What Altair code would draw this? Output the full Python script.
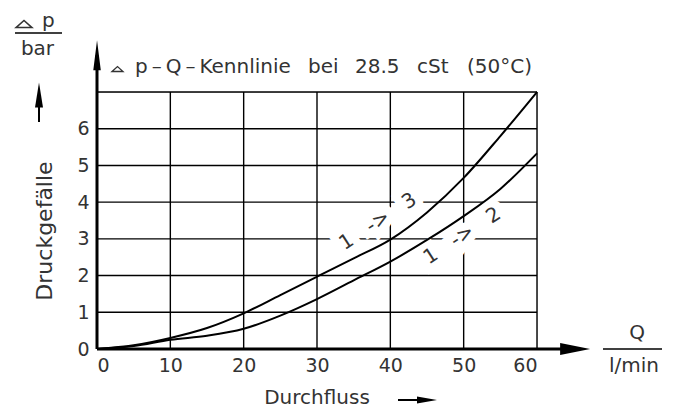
import altair as alt
import pandas as pd

# ---- data ----
flow = [0, 5, 10, 15, 20, 25, 30, 35, 40, 45, 50, 55, 60]
dp_1_3 = [0, 0.10, 0.30, 0.57, 0.97, 1.47, 1.97, 2.47, 2.98, 3.72, 4.66, 5.80, 7.00]
dp_1_2 = [0, 0.08, 0.25, 0.36, 0.55, 0.91, 1.36, 1.87, 2.38, 2.97, 3.62, 4.36, 5.33]

x_ticks = [0, 10, 20, 30, 40, 50, 60]
y_ticks = [0, 1, 2, 3, 4, 5, 6]
x_grid = [10, 20, 30, 40, 50, 60]
y_grid = [1, 2, 3, 4, 5, 6, 7]

SP = "\u00a0\u00a0\u00a0"
curve_labels = ["1" + SP + "->" + SP + "3", "1" + SP + "->" + SP + "2"]
label_x = [38.3, 49.8]
label_y = [3.47, 3.08]

TXT = "#333333"
FONT = "DejaVu Sans"

curves = pd.DataFrame(
    {"Q": flow * 2,
     "dp": dp_1_3 + dp_1_2,
     "path": ["1->3"] * len(flow) + ["1->2"] * len(flow)}
)

xs = alt.Scale(domain=[0, 60], nice=False)
ys = alt.Scale(domain=[0, 7], nice=False)

vgrid = alt.Chart(pd.DataFrame({"x": x_grid, "y0": 0, "y1": 7})).mark_rule(
    color="black", strokeWidth=1.4
).encode(
    x=alt.X("x:Q", scale=xs,
            axis=alt.Axis(values=x_ticks, domain=False, ticks=False, grid=False,
                          title=None, labelFontSize=19, labelColor=TXT,
                          labelFont=FONT, labelPadding=7)),
    y=alt.Y("y0:Q", scale=ys,
            axis=alt.Axis(values=y_ticks, domain=False, ticks=False, grid=False,
                          title=None, labelFontSize=19, labelColor=TXT,
                          labelFont=FONT, labelPadding=8)),
    y2="y1:Q",
)

hgrid = alt.Chart(pd.DataFrame({"y": y_grid, "x0": 0, "x1": 60})).mark_rule(
    color="black", strokeWidth=1.4
).encode(x=alt.X("x0:Q", scale=xs), x2="x1:Q", y=alt.Y("y:Q", scale=ys))

lab_df = pd.DataFrame({"x": label_x, "y": label_y, "t": curve_labels})
halo = alt.Chart(lab_df).mark_text(
    angle=327, fontSize=20, font=FONT, stroke="white", strokeWidth=16,
    color="white"
).encode(x=alt.X("x:Q", scale=xs), y=alt.Y("y:Q", scale=ys), text="t:N")
labels = alt.Chart(lab_df).mark_text(
    angle=327, fontSize=20, font=FONT, color=TXT
).encode(x=alt.X("x:Q", scale=xs), y=alt.Y("y:Q", scale=ys), text="t:N")

lines = alt.Chart(curves).mark_line(
    color="black", strokeWidth=2, interpolate="monotone"
).encode(x=alt.X("Q:Q", scale=xs), y=alt.Y("dp:Q", scale=ys), detail="path:N")

# axis lines with arrows
x_axis_line = alt.Chart(pd.DataFrame({"x0": [0], "x1": [65.5], "y": [0]})).mark_rule(
    color="black", strokeWidth=3
).encode(x=alt.X("x0:Q", scale=xs), x2="x1:Q", y=alt.Y("y:Q", scale=ys))
y_axis_line = alt.Chart(pd.DataFrame({"x": [0], "y0": [0], "y1": [8.0]})).mark_rule(
    color="black", strokeWidth=3
).encode(x=alt.X("x:Q", scale=xs), y=alt.Y("y0:Q", scale=ys), y2="y1:Q")

x_head = alt.Chart(pd.DataFrame({"x": [65.2], "y": [0]})).mark_point(
    shape="M-1,-0.4L1,0L-1,0.4Z", size=900, filled=True, color="black", opacity=1
).encode(x=alt.X("x:Q", scale=xs), y=alt.Y("y:Q", scale=ys))
y_head = alt.Chart(pd.DataFrame({"x": [0], "y": [8.0]})).mark_point(
    shape="M0,-1L0.25,1L-0.25,1Z", size=900, filled=True, color="black", opacity=1
).encode(x=alt.X("x:Q", scale=xs), y=alt.Y("y:Q", scale=ys))

base = alt.Chart(pd.DataFrame({"a": [0]}))


def txt(s, x, y, size=20, angle=0, align="center", baseline="middle"):
    m = base.mark_text(text=s, fontSize=size, font=FONT, color=TXT, align=align,
                       baseline=baseline, angle=angle)
    return m.encode(x=alt.value(x), y=alt.value(y))


def hline(x0, x1, y, w=1.5):
    return base.mark_rule(color="black", strokeWidth=w).encode(
        x=alt.value(x0), x2=alt.value(x1), y=alt.value(y))


def vline(x, y0, y1, w=1.5):
    return base.mark_rule(color="black", strokeWidth=w).encode(
        x=alt.value(x), y=alt.value(y0), y2=alt.value(y1))


def head(x, y, shape, size):
    return base.mark_point(shape=shape, size=size, filled=True, color="black",
                           opacity=1).encode(x=alt.value(x), y=alt.value(y))


def delta(x, y, size, sw):
    return base.mark_point(shape="M-1,0.45L0,-0.45L1,0.45Z", size=size, filled=False,
                           color=TXT, strokeWidth=sw, opacity=1).encode(
        x=alt.value(x), y=alt.value(y))


TS = "\u2009"
# title pieces (spaced as in the drawing)
t_delta = delta(20.5, -23, 121, 1.3)
t_kenn = txt("p" + TS + "\u2013" + TS + "Q" + TS + "\u2013" + TS + "Kennlinie", 38, -19,
             align="left", baseline="alphabetic")
t_bei = txt("bei", 211, -19, align="left", baseline="alphabetic")
t_num = txt("28.5", 258, -19, align="left", baseline="alphabetic")
t_cst = txt("cSt", 320, -19, align="left", baseline="alphabetic")
t_temp = txt("(50\u00b0C)", 370, -19, align="left", baseline="alphabetic")

dp_delta = delta(-73, -68, 256, 1.5)
dp_p = txt("p", -55, -65, align="left", baseline="alphabetic")
dp_line = hline(-82, -35, -59)
bar_txt = txt("bar", -59.5, -37, baseline="alphabetic")
up_shaft = vline(-58, 2, 30, 2)
up_head = head(-58, 3, "M0,-1L0.32,1L-0.32,1Z", 625)
druck = txt("Druckgef\u00e4lle", -52, 139, size=22, angle=270)
q_txt = txt("Q", 540, 241)
q_line = hline(506, 565, 257)
lmin = txt("l/min", 537, 274)
durch = txt("Durchfluss", 220, 312, baseline="alphabetic")
d_shaft = hline(301, 325, 308, 2)
d_head = head(330, 308, "M-1,-0.35L1,0L-1,0.35Z", 400)

chart = alt.layer(
    vgrid, hgrid, halo, labels, lines, x_axis_line, y_axis_line, x_head, y_head,
    t_delta, t_kenn, t_bei, t_num, t_cst, t_temp,
    dp_delta, dp_p, dp_line, bar_txt, up_shaft, up_head, druck, q_txt, q_line,
    lmin, durch, d_shaft, d_head,
).properties(
    width=440, height=257,
    autosize=alt.AutoSizeParams(type="none"),
    padding={"left": 89, "top": 84, "right": 132, "bottom": 59},
).configure_view(stroke=None).configure(background="white")

chart.save("out.html", embed_options={"renderer": "svg", "actions": False})
